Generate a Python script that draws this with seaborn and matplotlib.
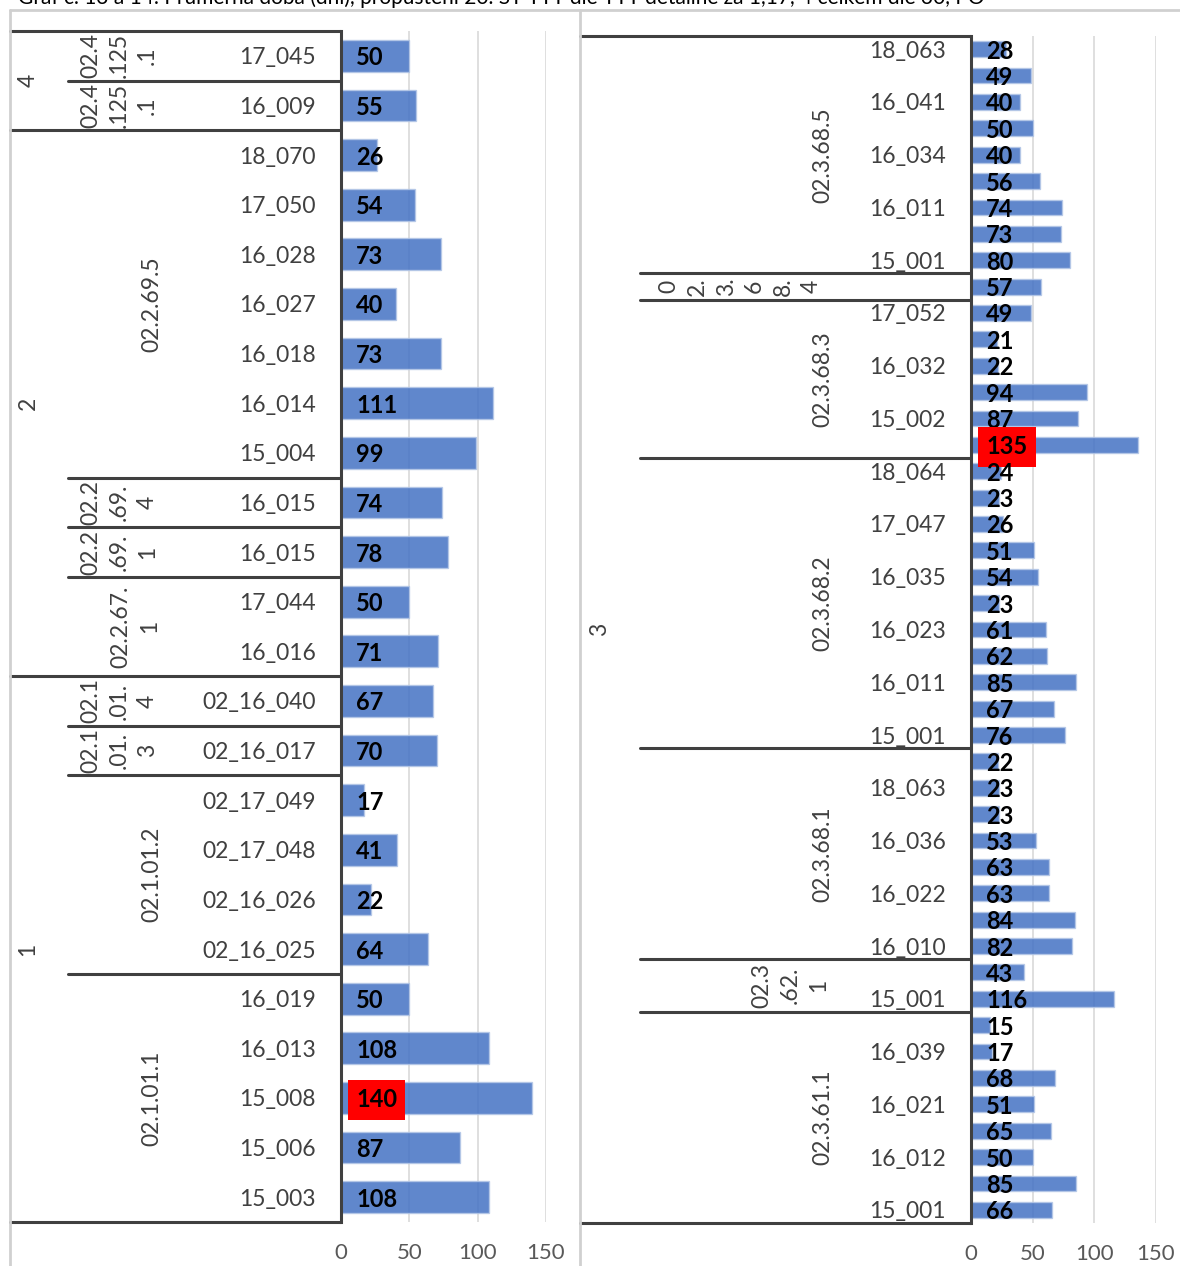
import matplotlib
matplotlib.use('Agg')
import matplotlib.pyplot as plt
import seaborn as sns
import pandas as pd
from matplotlib.lines import Line2D
from matplotlib.transforms import blended_transform_factory

# whole picture is laid out in pixels of a 1180x1266 canvas
W, H = 1180, 1266

sns.set_theme(style='white')
plt.rcParams['font.family'] = ['Lato', 'DejaVu Sans']

title = "Graf č. 13 a 14: Průměrná doba (dní), propuštění 20. ST TTT dle TTT detailně za 1,17, 4 celkem dle 30, PO"

# left chart (groups 4, 2, 1)
left_values = [50, 55, 26, 54, 73, 40, 73, 111, 99, 74, 78, 50, 71,
               67, 70, 17, 41, 22, 64, 50, 108, 140, 87, 108]
left_names = ["17_045", "16_009", "18_070", "17_050", "16_028", "16_027", "16_018",
              "16_014", "15_004", "16_015", "16_015", "17_044", "16_016",
              "02_16_040", "02_16_017", "02_17_049", "02_17_048", "02_16_026",
              "02_16_025", "16_019", "16_013", "15_008", "15_006", "15_003"]
left_level2 = [("02.4\n.125\n.1", 1), ("02.4\n.125\n.1", 1), ("02.2.69.5", 7),
               ("02.2\n.69.\n4", 1), ("02.2\n.69.\n1", 1), ("02.2.67.\n1", 2),
               ("02.1\n.01.\n4", 1), ("02.1\n.01.\n3", 1), ("02.1.01.2", 4),
               ("02.1.01.1", 5)]
left_level1 = [("4", 2), ("2", 11), ("1", 11)]

# right chart (group 3), only every other name is printed on the axis
right_values = [28, 49, 40, 50, 40, 56, 74, 73, 80,
                57,
                49, 21, 22, 94, 87, 135,
                24, 23, 26, 51, 54, 23, 61, 62, 85, 67, 76,
                22, 23, 23, 53, 63, 63, 84, 82,
                43, 116,
                15, 17, 68, 51, 65, 50, 85, 66]
right_names = ["18_063", "", "16_041", "", "16_034", "", "16_011", "", "15_001",
               "",
               "17_052", "", "16_032", "", "15_002", "",
               "18_064", "", "17_047", "", "16_035", "", "16_023", "", "16_011", "", "15_001",
               "", "18_063", "", "16_036", "", "16_022", "", "16_010",
               "", "15_001",
               "", "16_039", "", "16_021", "", "16_012", "", "15_001"]
right_level2 = [("02.3.68.5", 9), ("0\n2.\n3.\n6\n8.\n4", 1), ("02.3.68.3", 6),
                ("02.3.68.2", 11), ("02.3.68.1", 8), ("02.3\n.62.\n1", 2),
                ("02.3.61.1", 8)]
right_level1 = [("3", 45)]

ticks = [0, 50, 100, 150]

left_cfg = dict(box=(341, 31, 546, 1222), col1=10, col2=68, l1x=28, l2x=152, valx=356, bar=0.64)
right_cfg = dict(box=(971, 36, 1156, 1223), col1=580, col2=640, l1x=600, l2x=823, valx=986, bar=0.60)

TXT = '#404040'
LINE = '#404040'
FS = 16.5

fig = plt.figure(figsize=(W / 100, H / 100), dpi=100)


def edges(groups):
    out = [0]
    for _, n in groups:
        out.append(out[-1] + n)
    return out


def draw_panel(values, names, level1, level2, cfg):
    x0, y0, x1, y1 = cfg['box']
    ax = fig.add_axes([x0 / W, 1 - y1 / H, (x1 - x0) / W, (y1 - y0) / H])
    n = len(values)
    df = pd.DataFrame({'row': [str(i) for i in range(n)], 'value': values})
    sns.barplot(data=df, x='value', y='row', orient='h', order=df['row'],
                color='#4472C4', saturation=1, alpha=0.85, width=cfg['bar'],
                edgecolor='#b4c7e7', linewidth=1, ax=ax)
    ax.set_xlim(0, 150)
    ax.set_ylim(n - 0.5, -0.5)
    ax.set_xticks(ticks)
    ax.set_xticklabels([str(t) for t in ticks])
    ax.grid(axis='x', color='#d9d9d9', lw=1.2)
    ax.grid(axis='y', visible=False)
    ax.set_axisbelow(True)
    ax.set_yticks(range(n))
    ax.set_yticklabels(names)
    ax.tick_params(axis='y', length=0, pad=18, labelsize=FS, labelcolor=TXT)
    ax.tick_params(axis='x', length=0, pad=15, labelsize=16, labelcolor='#595959')
    ax.set_xlabel('')
    ax.set_ylabel('')
    for s in ['top', 'right', 'bottom']:
        ax.spines[s].set_visible(False)
    ax.spines['left'].set_color(LINE)
    ax.spines['left'].set_linewidth(2.2)

    tr = blended_transform_factory(fig.transFigure, ax.transData)

    # group separators of the multi level axis
    e1 = edges(level1)
    e2 = edges(level2)
    for b in e1:
        ax.add_line(Line2D([cfg['col1'] / W, x0 / W], [b - 0.5, b - 0.5], transform=tr,
                           color=LINE, lw=2.2, clip_on=False))
    for b in e2:
        if b not in e1:
            ax.add_line(Line2D([cfg['col2'] / W, x0 / W], [b - 0.5, b - 0.5], transform=tr,
                               color=LINE, lw=2.2, clip_on=False))

    for (lab, cnt), a in zip(level1, e1[:-1]):
        ax.text(cfg['l1x'] / W, a + (cnt - 1) / 2, lab, transform=tr, rotation=90,
                ha='center', va='center', fontsize=FS, color=TXT)
    for (lab, cnt), a in zip(level2, e2[:-1]):
        nl = lab.count('\n') + 1
        cx = cfg['l2x'] - (nl - 1) * 33 / 2
        ax.text(cx / W, a + (cnt - 1) / 2, lab, transform=tr, rotation=90,
                ha='center', va='center', multialignment='center', linespacing=1.44,
                fontsize=FS, color=TXT)

    # value labels, the maximum gets a red box
    vmax = max(values)
    for i, v in enumerate(values):
        box = dict(boxstyle='square,pad=0.35', fc='#ff0000', ec='none') if v == vmax else None
        ax.text(cfg['valx'] / W, i, str(v), transform=tr, ha='left', va='center_baseline',
                fontsize=17, fontweight='bold', color='black', bbox=box)
    return ax


draw_panel(left_values, left_names, left_level1, left_level2, left_cfg)
draw_panel(right_values, right_names, right_level1, right_level2, right_cfg)

# light chart frames
frame = '#d0d0d0'
for xs, ys in [([10, 10], [10, H]), ([10, W], [10, 10]), ([580, 580], [10, H])]:
    fig.add_artist(Line2D([x / W for x in xs], [1 - y / H for y in ys],
                          transform=fig.transFigure, color=frame, lw=2))

# the title sits mostly above the canvas, only its lower edge shows
fig.text(18 / W, 1 - 4 / H, title, fontsize=15, va='baseline', color='black')

fig.savefig('out.png', dpi=100)
